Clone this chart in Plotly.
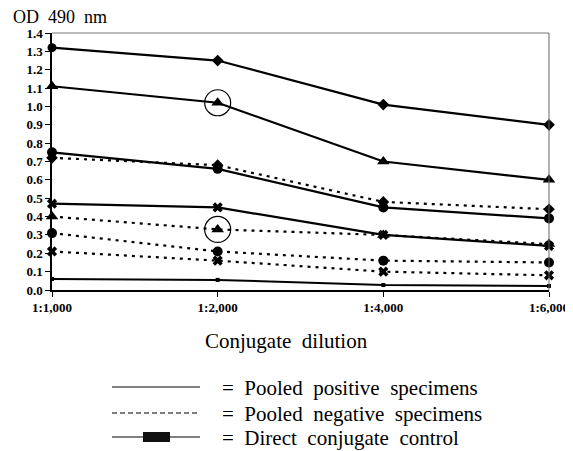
import plotly.graph_objects as go

categories = ["1:1,000", "1:2,000", "1:4,000", "1:6,000"]

pos_diamond = [1.32, 1.25, 1.01, 0.90]
pos_triangle = [1.11, 1.02, 0.70, 0.60]
pos_circle = [0.75, 0.66, 0.45, 0.39]
pos_cross = [0.47, 0.45, 0.30, 0.24]
control = [0.06, 0.055, 0.027, 0.022]

neg_diamond = [0.72, 0.68, 0.48, 0.44]
neg_triangle = [0.40, 0.33, 0.30, 0.25]
neg_circle = [0.31, 0.21, 0.16, 0.15]
neg_cross = [0.21, 0.16, 0.10, 0.08]

circled_x = ["1:2,000", "1:2,000"]
circled_y = [1.02, 0.33]

y_ticks = [round(i * 0.1, 1) for i in range(15)]

legend_labels = ["= Pooled positive specimens", "= Pooled negative specimens", "= Direct conjugate control"]

SERIF = "Liberation Serif, Times New Roman, serif"
# page body has an 8px margin, so figure coordinates = screen coordinates - 8
OFF = 8
W, H = 573 - OFF, 451 - OFF
L, R, T, B = 52 - OFF, 549 - OFF, 33 - OFF, 290 - OFF

def px(x):
    return (x - OFF - L) / (R - L)

def py(y):
    return (B - (y - OFF)) / (B - T)

fig = go.Figure()

def add(y, symbol, dash, size=10):
    fig.add_trace(go.Scatter(
        x=categories, y=y, mode="lines+markers",
        line=dict(color="black", width=2.2, dash=dash),
        marker=dict(symbol=symbol, size=size, color="black"),
        cliponaxis=False, showlegend=False, hoverinfo="x+y"))

dotted = "3px,5px"
add(neg_diamond, "diamond", dotted, 9)
add(neg_triangle, "triangle-up", dotted, 11)
add(neg_circle, "circle", dotted, 10)
add(neg_cross, "x", dotted, 9)
add(pos_diamond, ["circle", "diamond", "diamond", "diamond"], "solid", 9)
add(pos_triangle, "triangle-up", "solid", 11)
add(pos_circle, "circle", "solid", 10)
add(pos_cross, "x", "solid", 9)
fig.add_trace(go.Scatter(
    x=categories, y=control, mode="lines+markers",
    line=dict(color="black", width=2), marker=dict(symbol="square", size=4, color="black"),
    cliponaxis=False, showlegend=False))
fig.add_trace(go.Scatter(
    x=circled_x, y=circled_y, mode="markers",
    marker=dict(symbol="circle-open", size=26, color="black", line=dict(width=1.2)),
    cliponaxis=False, showlegend=False, hoverinfo="skip"))

fig.update_xaxes(
    type="category", categoryorder="array", categoryarray=categories,
    range=[0, len(categories) - 1], showgrid=False, zeroline=False,
    showline=True, linecolor="black", linewidth=1.5,
    ticks="outside", ticklen=5, tickcolor="black", automargin=False,
    tickfont=dict(family=SERIF, size=13, color="black", weight="bold"))
fig.update_yaxes(
    range=[0, 1.4], tickvals=y_ticks, tickformat=".1f", showgrid=False, zeroline=False,
    showline=True, linecolor="black", linewidth=1.5,
    ticks="outside", ticklen=5, tickcolor="black", automargin=False,
    tickfont=dict(family=SERIF, size=13, color="black", weight="bold"))

shapes = [
    dict(type="line", xref="paper", yref="paper", x0=0, x1=1, y0=1, y1=1,
         line=dict(color="#777", width=1)),
    dict(type="line", xref="paper", yref="paper", x0=1, x1=1, y0=0, y1=1,
         line=dict(color="#666", width=1)),
]
rows = [387, 413, 437]
lx0, lx1 = 112, 200
shapes.append(dict(type="line", xref="paper", yref="paper", x0=px(lx0), x1=px(lx1),
                   y0=py(rows[0]), y1=py(rows[0]), line=dict(color="black", width=1.2)))
shapes.append(dict(type="line", xref="paper", yref="paper", x0=px(lx0), x1=px(lx1),
                   y0=py(rows[1]), y1=py(rows[1]), line=dict(color="black", width=1.2, dash="5px,3px")))
shapes.append(dict(type="line", xref="paper", yref="paper", x0=px(lx0), x1=px(lx1),
                   y0=py(rows[2]), y1=py(rows[2]), line=dict(color="black", width=1.2)))
shapes.append(dict(type="rect", xref="paper", yref="paper", x0=px(143), x1=px(170),
                   y0=py(rows[2] + 5), y1=py(rows[2] - 5), line=dict(width=0), fillcolor="#111"))

annotations = [
    dict(text="OD&nbsp;&nbsp;490&nbsp;&nbsp;nm", xref="paper", yref="paper", x=px(11), y=py(17),
         xanchor="left", yanchor="middle", showarrow=False,
         font=dict(family=SERIF, size=18, color="black")),
    dict(text="Conjugate&nbsp;&nbsp;dilution", xref="paper", yref="paper", x=px(286), y=py(341),
         xanchor="center", yanchor="middle", showarrow=False,
         font=dict(family=SERIF, size=21, color="black")),
]
for r, lab in zip(rows, legend_labels):
    annotations.append(dict(text=lab.replace(" ", "&nbsp;&nbsp;"),
                            xref="paper", yref="paper", x=px(220), y=py(r + 1),
                            xanchor="left", yanchor="middle", showarrow=False,
                            font=dict(family=SERIF, size=21, color="black")))

fig.update_layout(
    width=W, height=H, margin=dict(l=L, r=W - R, t=T, b=H - B),
    paper_bgcolor="white", plot_bgcolor="white",
    shapes=shapes, annotations=annotations, showlegend=False)

fig.write_html("out.html")
